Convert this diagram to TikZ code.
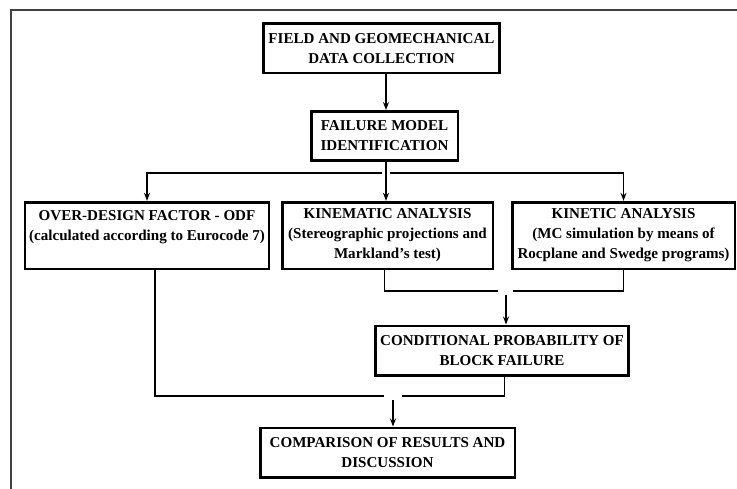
\documentclass[tikz,border=0pt]{standalone}
\usepackage{fontspec}
\setmainfont{Liberation Serif}
\usetikzlibrary{arrows.meta}

\begin{document}
\begin{tikzpicture}[x=0.75pt,y=-0.75pt,
    arr/.style={-{Stealth[length=6pt,width=4.5pt]}}]
\useasboundingbox (0,0) rectangle (737,488);
\draw[line width=1.4pt,black!75] (11,495) |- (745,10);

\begin{scope}[every node/.style={draw,line width=2pt,align=center,
              inner xsep=1pt,inner ysep=0pt,
              font=\fontsize{11.3}{15}\selectfont\bfseries}]
    \node[minimum width=177pt,minimum height=37pt] (field) at (381.5,48.5)
        {FIELD AND GEOMECHANICAL\\DATA COLLECTION};
    \node[minimum width=110pt,minimum height=37pt] (ident) at (384.5,136)
        {FAILURE MODEL\\IDENTIFICATION};
    \node[minimum width=183pt,minimum height=50pt] (odf) at (147,235.5)
        {OVER-DESIGN FACTOR - ODF\\(calculated according to Eurocode 7)\\[0pt]\mbox{}};
    \node[minimum width=158pt,minimum height=50pt] (kinem) at (387.5,235.5)
        {KINEMATIC ANALYSIS\\(Stereographic projections and\\Markland's test)};
    \node[minimum width=167pt,minimum height=50pt] (kinet) at (623.5,235.5)
        {KINETIC ANALYSIS\\(MC simulation by means of\\Rocplane and Swedge programs)};
    \node[minimum width=190pt,minimum height=37pt] (cond) at (502,350.5)
        {CONDITIONAL PROBABILITY OF\\BLOCK FAILURE};
    \node[minimum width=191pt,minimum height=37pt] (comp) at (387.5,452.5)
        {COMPARISON OF RESULTS AND\\DISCUSSION};
\end{scope}

\begin{scope}[line width=0.8pt]
    \coordinate (split) at (386,173);
    \coordinate (join1) at (506,291);
    \coordinate (join2) at (393,396);
    % first steps
    \draw[arr] (field.south -| split) -- (ident.north -| split);
    \draw (ident.south -| split) -- (split);
    \draw[arr] ([xshift=-3pt]split) -| (odf.north);
    \draw[arr] (split) -- (split |- kinem.north);
    \draw[arr] ([xshift=3pt]split) -| (kinet.north);
    % kinematic and kinetic merge
    \draw ([xshift=-2pt]kinem.south) |- ([xshift=-6pt]join1);
    \draw (kinet.south) |- ([xshift=5pt]join1);
    \draw[arr] ([yshift=-3pt]join1) -- (join1 |- cond.north);
    % final merge
    \draw ([xshift=6pt]odf.south) |- ([xshift=-7pt]join2);
    \draw ([xshift=2pt]cond.south) |- ([xshift=7pt]join2);
    \draw[arr] ([yshift=-3pt]join2) -- (join2 |- comp.north);
\end{scope}
\end{tikzpicture}
\end{document}
